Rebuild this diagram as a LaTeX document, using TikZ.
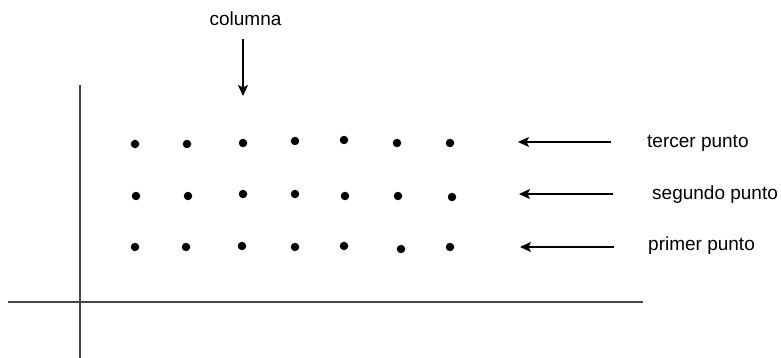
\documentclass[tikz,border=0pt]{standalone}
\usepackage{fontspec}
\setmainfont{Liberation Sans}
\usetikzlibrary{arrows.meta}
\begin{document}
\begin{tikzpicture}[x=1pt,y=-1pt,
  dot/.style={circle,fill=black,inner sep=0pt,minimum size=8.5pt},
  axis/.style={draw=black!73,line width=1.4pt},
  pointer/.style={draw=black,line width=1.1pt,-{Stealth[length=11pt,width=10pt,inset=2.5pt]}},
  lbl/.style={anchor=base west,inner sep=0pt,font=\fontsize{19}{21}\selectfont}]
\useasboundingbox (0,0) rectangle (781,358);
% axes
\coordinate (hl) at (8,302);
\coordinate (hr) at (643,302);
\coordinate (vt) at (80,85);
\coordinate (vb) at (80,358);
\draw[axis] (hl) -- (hr);
\draw[axis] (vt) -- (vb);
% dots: third row (top)
\node[dot] (c1) at (135,144) {};
\node[dot] (c2) at (187,144) {};
\node[dot] (c3) at (243,143) {};
\node[dot] (c4) at (295,141) {};
\node[dot] (c5) at (344,140) {};
\node[dot] (c6) at (397,143) {};
\node[dot] (c7) at (450,143) {};
% second row
\node[dot] (b1) at (136,196) {};
\node[dot] (b2) at (188,196) {};
\node[dot] (b3) at (243,194) {};
\node[dot] (b4) at (295,194) {};
\node[dot] (b5) at (345,196) {};
\node[dot] (b6) at (398,196) {};
\node[dot] (b7) at (452,197) {};
% first row
\node[dot] (a1) at (135,247) {};
\node[dot] (a2) at (186,247) {};
\node[dot] (a3) at (242,246) {};
\node[dot] (a4) at (295,247) {};
\node[dot] (a5) at (344,246) {};
\node[dot] (a6) at (401,249) {};
\node[dot] (a7) at (450,247) {};
% labels
\node[lbl] (t3) at (647,148) {tercer punto};
\node[lbl] (t2) at (652,199.5) {segundo punto};
\node[lbl] (t1) at (648,250.5) {primer punto};
\node[lbl,anchor=base] (col) at (245.5,26) {columna};
% arrows
\coordinate (s3) at (611,142); \coordinate (e3) at (518,142);
\coordinate (s2) at (613,194); \coordinate (e2) at (519,194);
\coordinate (s1) at (614,247); \coordinate (e1) at (520,247);
\coordinate (sc) at (243,39); \coordinate (ec) at (243,96);
\draw[pointer] (s3) -- (e3);
\draw[pointer] (s2) -- (e2);
\draw[pointer] (s1) -- (e1);
\draw[pointer] (sc) -- (ec);
\end{tikzpicture}
\end{document}
